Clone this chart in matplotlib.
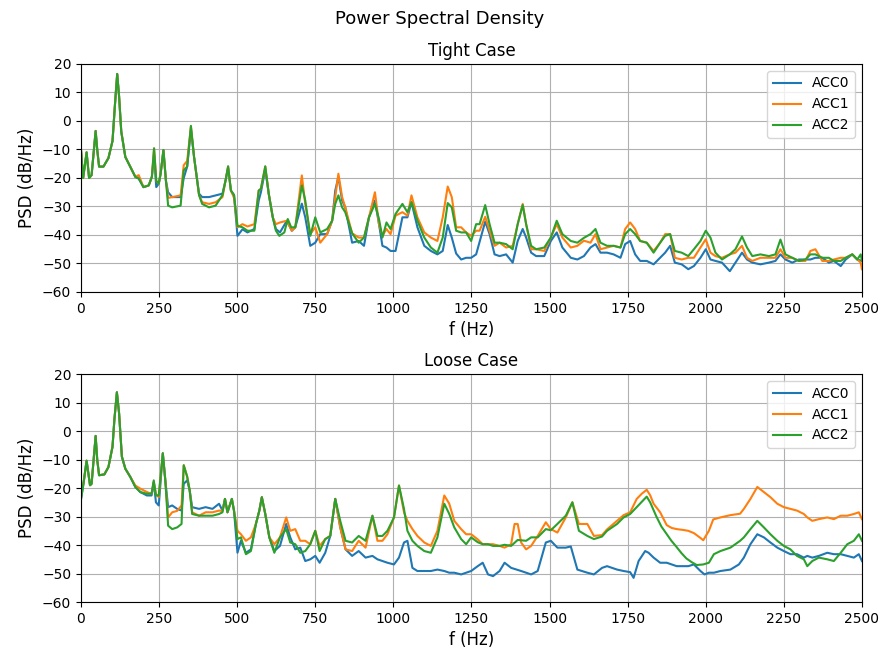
import numpy as np
import matplotlib.pyplot as plt

# PSD traces (f in Hz, level in dB/Hz) for the three accelerometers
tight_acc0 = [(0, -10), (7, -20), (18, -11), (26, -20), (34, -19), (47, -3.5), (52, -10), (58, -16), (72, -16),
              (88, -13), (101, -7), (109, 6), (116, 16.5), (122, 8.7), (129, -3.7), (142, -12.6), (158, -16.1),
              (174, -19.6), (185, -20.2), (200, -23.2), (217, -22.6), (227, -19.6), (234, -12), (241, -23.2),
              (249, -22), (255, -18.5), (264, -10.2), (272, -21), (279, -25), (292, -26.7), (319, -26.7),
              (329, -20), (340, -16), (352, -3), (362, -12.6), (378, -25.5), (388, -26.7), (410, -26.7),
              (431, -26.1), (453, -25.5), (463, -20.8), (471, -16.5), (480, -24.4), (490, -26), (501, -40.3),
              (517, -38), (533, -39.1), (555, -37.9), (569, -27.9), (576, -25), (590, -17), (601, -25.5),
              (614, -33.8), (624, -37.9), (637, -39.1), (659, -35), (675, -38.5), (686, -37.3), (707, -29),
              (718, -33.8), (734, -43.8), (750, -42.7), (766, -39.7), (788, -39.7), (804, -35), (814, -24.4),
              (824, -19.6), (836, -27.9), (846, -30.3), (868, -42.7), (889, -42.1), (906, -43.8), (922, -33.8),
              (941, -27.9), (954, -36.2), (965, -43.8), (978, -44.4), (991, -45.6), (1007, -45.6), (1029, -33.8),
              (1045, -33.8), (1058, -28.5), (1077, -37.3), (1099, -43.8), (1120, -45.6), (1141, -46.8),
              (1158, -45.6), (1174, -36.5), (1187, -40.9), (1201, -46.5), (1217, -48.6), (1233, -48), (1249, -48),
              (1265, -46.8), (1294, -35.3), (1308, -39.7), (1324, -46.8), (1340, -47.4), (1361, -46.8),
              (1382, -49.7), (1398, -42.1), (1414, -37.9), (1425, -40.9), (1441, -46.2), (1457, -47.4),
              (1483, -47.4), (1504, -42.1), (1523, -39.1), (1541, -44.4), (1568, -48), (1589, -48.6),
              (1610, -47.4), (1631, -44.4), (1647, -43.2), (1663, -46.2), (1684, -46.2), (1705, -46.8),
              (1727, -48), (1742, -43.2), (1758, -42.1), (1774, -46.8), (1790, -49.1), (1811, -49.1),
              (1833, -50.3), (1854, -48), (1870, -46.2), (1886, -43.8), (1901, -49.7), (1923, -50.3), (1944, -52),
              (1962, -50.9), (1983, -48), (2000, -45), (2015, -48.6), (2031, -49.1), (2052, -49.7), (2077, -52.7),
              (2095, -49.7), (2116, -46.2), (2132, -48.6), (2149, -49.7), (2175, -50.3), (2202, -49.7),
              (2223, -49.1), (2239, -46.8), (2255, -48.6), (2277, -49.7), (2298, -48.6), (2319, -48.6),
              (2335, -48.6), (2351, -48), (2373, -48), (2394, -49.7), (2410, -49.1), (2432, -50.9), (2448, -48.6),
              (2469, -46.8), (2485, -48.6), (2500, -49.1)]

tight_acc1 = [(0, -10), (7, -20), (18, -11), (26, -20), (34, -19), (47, -3.5), (52, -10), (58, -16), (72, -16),
              (88, -13), (101, -7), (109, 6), (116, 16.5), (122, 8.7), (129, -3.7), (142, -12.6), (158, -16.1),
              (174, -19.6), (185, -19), (200, -23.2), (217, -22.6), (227, -19.6), (234, -9.6), (241, -21),
              (249, -22), (255, -18.5), (264, -10.2), (272, -21), (279, -27), (292, -26.7), (319, -26.1),
              (329, -15.5), (340, -14), (352, -2), (362, -12.6), (378, -26), (388, -28.5), (410, -29.1),
              (431, -28.5), (453, -26.7), (463, -20.8), (471, -16), (480, -24.4), (490, -27), (501, -37.3),
              (517, -36.2), (533, -37), (555, -36.2), (569, -24.4), (576, -23.8), (590, -16), (601, -25.5),
              (614, -33.8), (624, -36.2), (637, -35.6), (659, -35), (675, -38.5), (686, -37.3), (707, -19.1),
              (718, -29.1), (734, -39.7), (750, -37.3), (766, -42.7), (788, -39.7), (804, -35), (814, -26.7),
              (824, -18.5), (836, -26.7), (846, -30.3), (868, -39.4), (889, -40.9), (906, -40.9), (922, -33.8),
              (941, -25), (954, -36.2), (965, -40.3), (978, -37.9), (991, -39.7), (1007, -33.2), (1029, -32),
              (1045, -33.2), (1058, -26.1), (1077, -33.8), (1099, -39.1), (1120, -40.9), (1141, -42.1),
              (1158, -33.8), (1174, -23), (1187, -26.7), (1201, -37.3), (1217, -37.3), (1233, -39.1),
              (1249, -40.3), (1265, -38.5), (1276, -38.5), (1294, -33.6), (1308, -38.5), (1324, -43.8),
              (1340, -42.7), (1361, -44.4), (1382, -43.8), (1398, -36.2), (1414, -29.1), (1425, -36.2),
              (1441, -45), (1457, -45), (1483, -45.6), (1504, -40.9), (1523, -36.2), (1541, -40.9), (1568, -44.4),
              (1589, -43.8), (1610, -42), (1631, -42.7), (1647, -39.7), (1663, -45), (1684, -44.4), (1705, -43.8),
              (1727, -44.4), (1742, -37.9), (1758, -35.6), (1774, -37.9), (1790, -42.1), (1811, -42.7),
              (1833, -45.6), (1854, -42.7), (1870, -39.7), (1886, -39.7), (1901, -48), (1923, -48.6), (1944, -48),
              (1962, -48), (1983, -44.4), (2000, -41.5), (2015, -46.2), (2031, -47.4), (2052, -48), (2077, -46.8),
              (2095, -46.2), (2116, -43.8), (2132, -48), (2149, -49.1), (2175, -48), (2202, -48), (2223, -48),
              (2239, -45), (2255, -48), (2277, -48), (2298, -49.1), (2319, -49.1), (2335, -45.6), (2351, -45),
              (2373, -49.1), (2394, -49.1), (2410, -48.6), (2432, -48), (2448, -48), (2469, -46.8), (2485, -48.6),
              (2496, -49.7), (2500, -52)]

tight_acc2 = [(0, -10), (7, -20), (18, -11), (26, -20), (34, -19), (47, -3.5), (52, -10), (58, -16), (72, -16),
              (88, -13), (101, -7), (109, 6), (116, 16.5), (122, 8.7), (129, -3.7), (142, -12.6), (158, -16.1),
              (174, -19.6), (185, -20.2), (200, -23.2), (217, -22.6), (227, -19.6), (234, -9.6), (241, -21),
              (249, -22), (255, -18.5), (264, -10.2), (272, -21), (279, -29.7), (292, -30.3), (319, -29.7),
              (329, -17.3), (340, -16), (352, -1.7), (362, -12.6), (378, -26), (388, -29.1), (410, -30.3),
              (431, -29.7), (453, -26), (463, -20.8), (471, -15.9), (480, -24.4), (490, -26), (501, -36.8),
              (517, -37.3), (533, -38.5), (555, -38.5), (569, -24.4), (576, -23.8), (590, -15.9), (601, -25.5),
              (614, -33.8), (624, -38.5), (635, -40.3), (651, -39.1), (662, -34.4), (673, -37.3), (686, -37.3),
              (707, -22.6), (718, -27.9), (734, -40.3), (750, -33.8), (766, -39.1), (788, -37.9), (804, -35),
              (814, -29.1), (824, -26.1), (836, -30.3), (846, -32), (868, -39.4), (889, -42.7), (906, -40.9),
              (922, -33.8), (941, -29.1), (954, -34.4), (965, -40.9), (978, -35.6), (991, -37.9), (1007, -32.6),
              (1029, -29.1), (1045, -32), (1058, -28.5), (1077, -35), (1099, -40.9), (1120, -44.4), (1141, -46.2),
              (1158, -40.9), (1174, -28.8), (1187, -30.3), (1201, -38.5), (1217, -39.1), (1233, -39.1),
              (1249, -42.1), (1265, -36.2), (1276, -36.2), (1294, -29.5), (1308, -36.2), (1324, -42.7),
              (1340, -42.7), (1361, -43.2), (1382, -45), (1398, -36.2), (1414, -29.5), (1425, -36.2),
              (1441, -43.8), (1457, -45), (1483, -44.4), (1504, -40.9), (1523, -35), (1541, -39.7), (1568, -42.1),
              (1589, -42.7), (1610, -41), (1631, -39.7), (1647, -37.9), (1663, -42.7), (1684, -43.8), (1705, -43.8),
              (1727, -44.4), (1742, -39.7), (1758, -37.9), (1774, -39.7), (1790, -42.1), (1811, -42.7),
              (1833, -46.2), (1854, -42.7), (1870, -40.3), (1886, -39.7), (1901, -45.6), (1923, -46.2),
              (1944, -47.4), (1962, -45), (1983, -42.1), (2000, -38.5), (2015, -40.9), (2031, -46.2), (2052, -48.6),
              (2077, -46.8), (2095, -45), (2116, -40.5), (2132, -44.4), (2149, -47.4), (2175, -46.8), (2202, -47.4),
              (2223, -46.8), (2239, -41.6), (2255, -46.8), (2277, -48), (2298, -49.1), (2319, -48.6), (2335, -46.8),
              (2351, -46.8), (2373, -48), (2394, -48), (2410, -49.1), (2432, -49.1), (2448, -48), (2469, -46.8),
              (2485, -48.6), (2496, -46.8), (2500, -49)]

loose_acc0 = [(0, -24), (8, -18.5), (18, -10.4), (29, -19), (34, -18.5), (47, -1.7), (52, -10), (58, -15.5),
              (75, -15.2), (88, -12.6), (101, -5.5), (107, 4), (115, 13.6), (122, 6.3), (131, -9), (142, -13.2),
              (158, -16.1), (174, -19.6), (190, -21.4), (211, -22.6), (226, -22.6), (233, -17.9), (240, -25),
              (249, -26.1), (262, -7.8), (270, -17.3), (279, -26.7), (292, -26.1), (308, -27.3), (322, -27.9),
              (329, -18.5), (340, -17.3), (348, -20.8), (356, -26.7), (378, -27.3), (399, -26.7), (421, -27.3),
              (442, -25.5), (453, -27.9), (461, -23.8), (469, -28.5), (483, -23.8), (490, -28), (501, -42.7),
              (512, -38.5), (528, -42.7), (544, -41.5), (560, -32.6), (571, -27.9), (579, -23.2), (590, -29.1),
              (603, -37.3), (619, -42.1), (637, -40.3), (657, -32.6), (670, -37.3), (686, -41.5), (702, -40.9),
              (718, -45.6), (734, -45), (750, -43.8), (764, -46.2), (782, -42.7), (798, -36.8), (814, -23.8),
              (830, -33.8), (847, -41.5), (868, -43.8), (889, -42.1), (911, -44.4), (933, -43.8), (949, -45),
              (965, -45.6), (981, -46.2), (1002, -46.8), (1018, -44.4), (1034, -39.1), (1045, -38.5), (1061, -48),
              (1077, -49.1), (1099, -49.1), (1120, -49.1), (1141, -48.6), (1163, -49.1), (1179, -49.7),
              (1195, -49.7), (1217, -50.3), (1233, -49.7), (1249, -49.1), (1270, -47.4), (1286, -46.2),
              (1303, -50.3), (1319, -50.9), (1340, -49.1), (1356, -46.2), (1377, -48), (1409, -49.1), (1441, -50.3),
              (1462, -49.1), (1488, -39.1), (1504, -38.5), (1525, -40.9), (1552, -40.9), (1568, -40.5),
              (1589, -48.6), (1621, -49.7), (1642, -50.3), (1668, -48), (1684, -47.4), (1716, -48.6), (1737, -49.1),
              (1758, -49.5), (1769, -51.5), (1785, -45.6), (1806, -42.1), (1817, -42.7), (1833, -44.4),
              (1854, -46.2), (1875, -46.2), (1891, -46.8), (1907, -47.4), (1928, -47.4), (1944, -47.4),
              (1962, -46.8), (1983, -49.1), (1996, -50.3), (2010, -49.7), (2026, -49.7), (2047, -49.1),
              (2079, -48.6), (2106, -46.8), (2122, -44.4), (2143, -39.7), (2165, -36.2), (2186, -37.3),
              (2207, -39.1), (2229, -40.9), (2250, -42.1), (2271, -43.2), (2292, -43.2), (2314, -44.4),
              (2325, -43.8), (2341, -44.4), (2362, -43.8), (2389, -42.7), (2410, -43.2), (2432, -43.2),
              (2453, -43.8), (2474, -44.4), (2490, -43.2), (2500, -45.6)]

loose_acc1 = [(0, -18.5), (8, -18.5), (18, -10.4), (29, -19), (34, -18.5), (47, -1.7), (52, -10), (58, -15.5),
              (75, -15.2), (88, -12.6), (101, -5.5), (107, 4), (115, 13.6), (122, 6.3), (131, -9), (142, -13.2),
              (158, -16.1), (174, -19.1), (190, -20.2), (211, -21.4), (226, -22), (233, -17.9), (240, -22),
              (249, -23.2), (262, -7.8), (270, -17.3), (279, -30.3), (292, -28.5), (308, -28), (322, -26.1),
              (329, -12), (340, -16), (348, -20.8), (356, -28.5), (378, -29.7), (399, -28.5), (421, -28.5),
              (442, -27.9), (453, -28), (461, -23.8), (469, -28.5), (483, -23.8), (490, -28), (501, -35),
              (512, -36.2), (528, -38.5), (544, -37.3), (560, -32.6), (571, -27.9), (579, -23.2), (590, -29.1),
              (603, -37.3), (619, -39.7), (637, -37.3), (657, -30.3), (670, -35), (686, -34.4), (702, -38.5),
              (718, -38.5), (734, -39.7), (750, -35), (764, -40.3), (782, -37.9), (798, -36.8), (814, -23.8),
              (830, -33.8), (847, -41.5), (868, -42.1), (889, -38.5), (911, -40.9), (933, -29.7), (949, -38.5),
              (965, -38.5), (981, -36.2), (1002, -30.3), (1018, -19.1), (1034, -28.5), (1045, -31.5), (1061, -34.4),
              (1077, -36.8), (1099, -39.1), (1120, -40.3), (1141, -35), (1163, -22.6), (1179, -25.5), (1195, -31.5),
              (1217, -34.4), (1233, -36.2), (1249, -36.2), (1270, -38), (1286, -39.7), (1303, -39.7), (1319, -39.7),
              (1340, -40.3), (1356, -40.9), (1377, -39.7), (1388, -32.6), (1398, -32.6), (1409, -39.1),
              (1425, -41.5), (1441, -40.3), (1462, -36.8), (1488, -32), (1504, -34.4), (1525, -35.6), (1552, -30.3),
              (1573, -25), (1594, -32.6), (1621, -32.6), (1642, -36.8), (1668, -36.5), (1684, -34.5), (1704, -32.6),
              (1737, -29.5), (1758, -28.5), (1779, -23.8), (1795, -22), (1811, -20.6), (1822, -22.5),
              (1833, -25.5), (1854, -28.5), (1875, -33), (1891, -34), (1907, -34.4), (1928, -34.7), (1944, -35),
              (1962, -35.8), (1983, -37.5), (1992, -38.3), (2010, -35), (2024, -31), (2047, -30.3), (2079, -29.5),
              (2110, -29), (2122, -27.3), (2143, -23.8), (2165, -19.6), (2186, -21.4), (2207, -23.2), (2229, -25.5),
              (2250, -26.7), (2271, -27.3), (2292, -27.9), (2314, -29.1), (2325, -30.3), (2341, -31.5),
              (2362, -30.9), (2389, -30.3), (2410, -30.9), (2432, -29.7), (2453, -29.7), (2474, -29.1),
              (2490, -28.5), (2500, -30.9)]

loose_acc2 = [(0, -24), (8, -18.5), (18, -10.4), (29, -19), (34, -18.5), (47, -1.7), (52, -10), (58, -15.5),
              (75, -15.2), (88, -12.6), (101, -5.5), (107, 4), (115, 13.6), (122, 6.3), (131, -9), (142, -13.2),
              (158, -16.1), (174, -19.6), (190, -21.4), (211, -22), (226, -22), (233, -17.3), (240, -22.6),
              (249, -22.6), (262, -7.8), (270, -17.3), (279, -33.2), (292, -34.4), (308, -33.8), (322, -32.6),
              (329, -12), (340, -16), (348, -20.8), (356, -29.1), (378, -29.7), (399, -29.7), (421, -29.7),
              (442, -29.1), (453, -28.5), (461, -23.8), (469, -28.5), (483, -23.8), (490, -28), (501, -37.9),
              (512, -37.3), (528, -43.2), (544, -42.1), (560, -32.6), (571, -27.9), (579, -23.2), (590, -29.1),
              (603, -37.3), (619, -42.7), (637, -37.3), (657, -34.4), (670, -39.1), (686, -39.7), (702, -42.7),
              (718, -42.1), (734, -39.7), (750, -35), (764, -42.1), (782, -37.9), (798, -36.8), (814, -23.8),
              (830, -31.5), (847, -38.5), (868, -39.1), (889, -36.8), (911, -38.5), (933, -29.7), (949, -36.8),
              (965, -36.8), (981, -35), (1002, -30.3), (1018, -19.1), (1034, -27.3), (1045, -35), (1061, -38.5),
              (1077, -40.3), (1099, -42.1), (1120, -42.7), (1141, -37.3), (1163, -25.5), (1179, -29.1),
              (1195, -33.8), (1217, -37.9), (1233, -39.7), (1249, -37.3), (1270, -39), (1286, -39.7), (1303, -39.7),
              (1319, -40.3), (1340, -40.3), (1356, -39.9), (1377, -40.3), (1398, -38.2), (1425, -38.5),
              (1441, -37.3), (1462, -37.3), (1488, -34.4), (1504, -34.8), (1525, -32.6), (1552, -29.7), (1573, -25),
              (1594, -35), (1621, -36.8), (1642, -37.9), (1668, -37), (1684, -35), (1716, -32.6), (1737, -30.3),
              (1758, -29.1), (1785, -26), (1811, -23), (1822, -25), (1842, -30), (1858, -33.5), (1874, -36),
              (1890, -38.5), (1906, -40.6), (1922, -42.8), (1938, -44.7), (1955, -46), (1971, -47), (1992, -46.8),
              (2010, -46.2), (2026, -43.2), (2047, -42.1), (2079, -40.9), (2110, -38.5), (2122, -37.3),
              (2143, -34.4), (2165, -31.5), (2186, -33.8), (2207, -36.2), (2229, -38.5), (2250, -40.3),
              (2271, -41.5), (2292, -43.8), (2314, -45), (2325, -47.4), (2341, -45.6), (2362, -44.4), (2389, -45),
              (2410, -45.6), (2432, -42.7), (2453, -39.7), (2474, -38.5), (2490, -36.2), (2500, -38.5)]

channels = ['ACC0', 'ACC1', 'ACC2']
cases = [('Tight Case', [tight_acc0, tight_acc1, tight_acc2]),
         ('Loose Case', [loose_acc0, loose_acc1, loose_acc2])]


def plot_case(ax, title, traces):
    for name, trace in zip(channels, traces):
        arr = np.array(trace)
        ax.plot(arr[:, 0], arr[:, 1], lw=1.5, label=name)
    ax.set_title(title, fontsize=12)
    ax.set_xlim(0, 2500)
    ax.set_ylim(-60, 20)
    ax.set_xticks(np.arange(0, 2501, 250))
    ax.set_yticks(np.arange(-60, 21, 10))
    ax.set_xlabel('f (Hz)', fontsize=12)
    ax.set_ylabel('PSD (dB/Hz)', fontsize=12)
    ax.grid(True)
    ax.legend(loc='upper right')


fig, axes = plt.subplots(2, 1, figsize=(8.8, 6.53), dpi=100)
fig.subplots_adjust(left=0.092, right=0.9795, top=0.902, bottom=0.078, hspace=0.36)
fig.suptitle('Power Spectral Density', fontsize=13, y=0.985)

for ax, (title, traces) in zip(axes, cases):
    plot_case(ax, title, traces)

fig.savefig('out.png', dpi=100)
